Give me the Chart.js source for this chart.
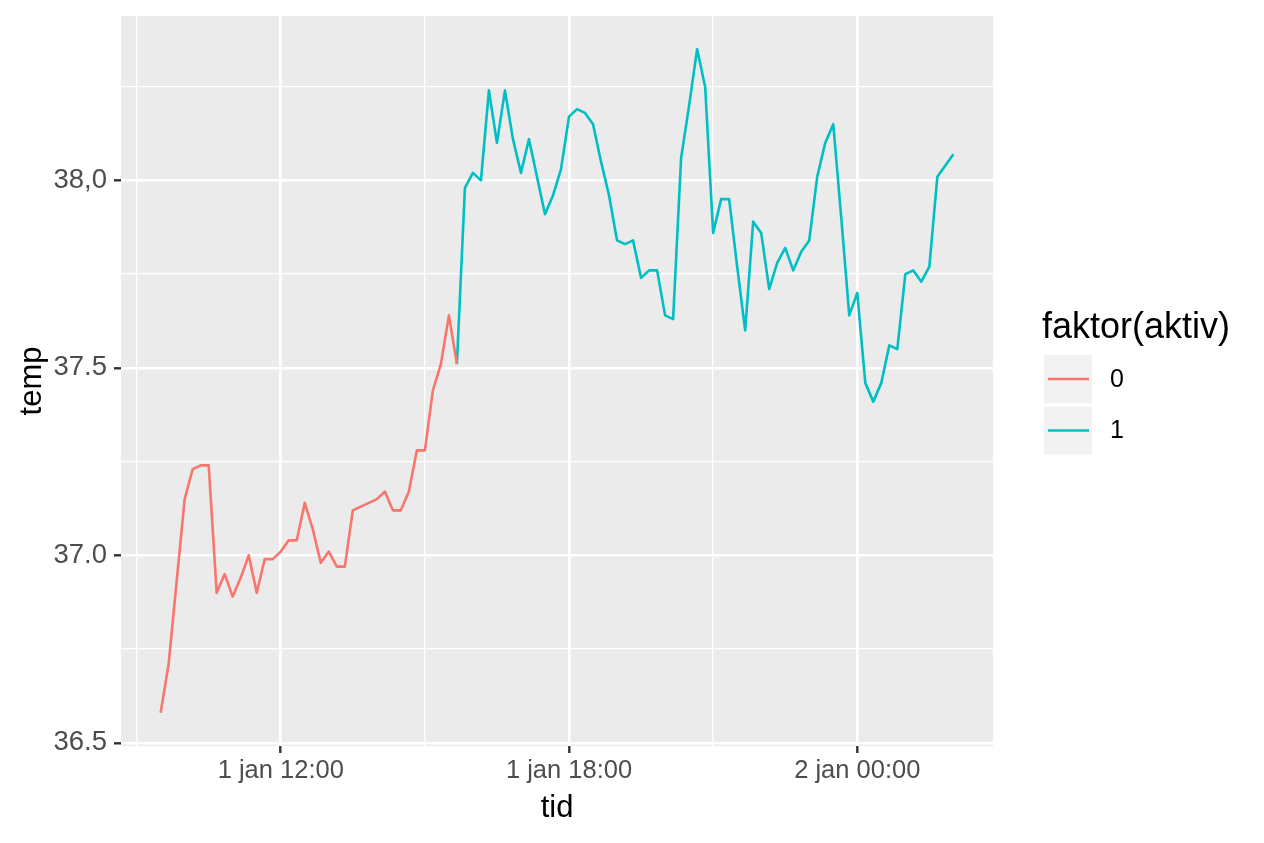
<!DOCTYPE html>
<html>
<head>
<meta charset="utf-8">
<title>temp / tid</title>
<script src="https://cdn.jsdelivr.net/npm/chart.js@4.4.1/dist/chart.umd.min.js"></script>
<style>
  html, body { margin: 0; padding: 0; background: #ffffff; }
  #wrap { width: 1264px; height: 843px; }
</style>
</head>
<body>
<div id="wrap"><canvas id="temp-chart" width="1264" height="843"></canvas></div>
<script>
// faktor(aktiv) = 0
const tid0 = [
  "1 jan 09:30", "1 jan 09:40", "1 jan 09:50",
  "1 jan 10:00", "1 jan 10:10", "1 jan 10:20", "1 jan 10:30", "1 jan 10:40", "1 jan 10:50",
  "1 jan 11:00", "1 jan 11:10", "1 jan 11:20", "1 jan 11:30", "1 jan 11:40", "1 jan 11:50",
  "1 jan 12:00", "1 jan 12:10", "1 jan 12:20", "1 jan 12:30", "1 jan 12:40", "1 jan 12:50",
  "1 jan 13:00", "1 jan 13:10", "1 jan 13:20", "1 jan 13:30", "1 jan 13:40", "1 jan 13:50",
  "1 jan 14:00", "1 jan 14:10", "1 jan 14:20", "1 jan 14:30", "1 jan 14:40", "1 jan 14:50",
  "1 jan 15:00", "1 jan 15:10", "1 jan 15:20", "1 jan 15:30", "1 jan 15:40"
];
const temp0 = [
  36.58, 36.71, 36.93,
  37.15, 37.23, 37.24, 37.24, 36.90, 36.95,
  36.89, 36.94, 37.00, 36.90, 36.99, 36.99,
  37.01, 37.04, 37.04, 37.14, 37.07, 36.98,
  37.01, 36.97, 36.97, 37.12, 37.13, 37.14,
  37.15, 37.17, 37.12, 37.12, 37.17, 37.28,
  37.28, 37.44, 37.51, 37.64, 37.51
];

// faktor(aktiv) = 1
const tid1 = [
  "1 jan 15:40", "1 jan 15:50",
  "1 jan 16:00", "1 jan 16:10", "1 jan 16:20", "1 jan 16:30", "1 jan 16:40", "1 jan 16:50",
  "1 jan 17:00", "1 jan 17:10", "1 jan 17:20", "1 jan 17:30", "1 jan 17:40", "1 jan 17:50",
  "1 jan 18:00", "1 jan 18:10", "1 jan 18:20", "1 jan 18:30", "1 jan 18:40", "1 jan 18:50",
  "1 jan 19:00", "1 jan 19:10", "1 jan 19:20", "1 jan 19:30", "1 jan 19:40", "1 jan 19:50",
  "1 jan 20:00", "1 jan 20:10", "1 jan 20:20", "1 jan 20:30", "1 jan 20:40", "1 jan 20:50",
  "1 jan 21:00", "1 jan 21:10", "1 jan 21:20", "1 jan 21:30", "1 jan 21:40", "1 jan 21:50",
  "1 jan 22:00", "1 jan 22:10", "1 jan 22:20", "1 jan 22:30", "1 jan 22:40", "1 jan 22:50",
  "1 jan 23:00", "1 jan 23:10", "1 jan 23:20", "1 jan 23:30", "1 jan 23:40", "1 jan 23:50",
  "2 jan 00:00", "2 jan 00:10", "2 jan 00:20", "2 jan 00:30", "2 jan 00:40", "2 jan 00:50",
  "2 jan 01:00", "2 jan 01:10", "2 jan 01:20", "2 jan 01:30", "2 jan 01:40", "2 jan 01:50",
  "2 jan 02:00"
];
const temp1 = [
  37.51, 37.98,
  38.02, 38.00, 38.24, 38.10, 38.24, 38.11,
  38.02, 38.11, 38.01, 37.91, 37.96, 38.03,
  38.17, 38.19, 38.18, 38.15, 38.05, 37.96,
  37.84, 37.83, 37.84, 37.74, 37.76, 37.76,
  37.64, 37.63, 38.06, 38.20, 38.35, 38.25,
  37.86, 37.95, 37.95, 37.77, 37.60, 37.89,
  37.86, 37.71, 37.78, 37.82, 37.76, 37.81,
  37.84, 38.01, 38.10, 38.15, 37.90, 37.64,
  37.70, 37.46, 37.41, 37.46, 37.56, 37.55,
  37.75, 37.76, 37.73, 37.77, 38.01, 38.04,
  38.07
];

const xTickTider = ["1 jan 12:00", "1 jan 18:00", "2 jan 00:00"];
const xMinorTider = ["1 jan 09:00", "1 jan 15:00", "1 jan 21:00"];
const yTicks = [36.5, 37.0, 37.5, 38.0];
const yTickLabels = ["36.5", "37.0", "37.5", "38,0"];
const yMinor = [36.75, 37.25, 37.75, 38.25];
const grupper = ["0", "1"];
const farger = ["#F8766D", "#00BFC4"];

const FONT = '"Liberation Sans", Arial, Helvetica, sans-serif';

// "1 jan 09:30" -> minutter etter 1 jan 00:00
function minutter(s) {
  const deler = s.split(" ");
  const hm = deler[2].split(":").map(Number);
  return (Number(deler[0]) - 1) * 1440 + hm[0] * 60 + hm[1];
}

const xMajor = xTickTider.map(minutter);
const xMinor = xMinorTider.map(minutter);

// ggplot-aktig utvidelse av aksene (5 %)
const alleX = tid0.concat(tid1).map(minutter);
const alleY = temp0.concat(temp1);
const xMin = Math.min(...alleX), xMax = Math.max(...alleX);
const yMin = Math.min(...alleY), yMax = Math.max(...alleY);
const xPad = (xMax - xMin) * 0.05, yPad = (yMax - yMin) * 0.05;

const panelPlugin = {
  id: 'panel',
  beforeDraw(chart) {
    const { ctx, chartArea: a } = chart;
    ctx.save();
    ctx.fillStyle = '#EBEBEB';
    ctx.fillRect(a.left, a.top, a.right - a.left, a.bottom - a.top);
    ctx.restore();
  }
};

const legendPlugin = {
  id: 'faktorLegend',
  afterDraw(chart) {
    const { ctx, chartArea: a } = chart;
    const x0 = a.right + 51;
    ctx.save();
    ctx.fillStyle = '#000000';
    ctx.font = '36px ' + FONT;
    ctx.textBaseline = 'alphabetic';
    ctx.textAlign = 'left';
    ctx.fillText('faktor(aktiv)', x0 - 2, 338);
    grupper.forEach((g, i) => {
      const top = 355 + i * 51.5;
      ctx.fillStyle = '#F2F2F2';
      ctx.fillRect(x0, top, 48, 48);
      ctx.strokeStyle = farger[i];
      ctx.lineWidth = 2.6;
      ctx.beginPath();
      ctx.moveTo(x0 + 4, top + 24);
      ctx.lineTo(x0 + 45, top + 24);
      ctx.stroke();
      ctx.fillStyle = '#000000';
      ctx.font = '25px ' + FONT;
      ctx.textBaseline = 'middle';
      ctx.fillText(g, x0 + 66, top + 25);
    });
    ctx.restore();
  }
};

Chart.defaults.font.family = FONT;

new Chart(document.getElementById('temp-chart'), {
  type: 'line',
  data: {
    datasets: [
      {
        label: grupper[0],
        data: tid0.map((t, i) => ({ x: minutter(t), y: temp0[i] })),
        borderColor: farger[0],
        borderWidth: 2.6,
        borderJoinStyle: 'round',
        pointRadius: 0,
        tension: 0
      },
      {
        label: grupper[1],
        data: tid1.map((t, i) => ({ x: minutter(t), y: temp1[i] })),
        borderColor: farger[1],
        borderWidth: 2.6,
        borderJoinStyle: 'round',
        pointRadius: 0,
        tension: 0
      }
    ]
  },
  options: {
    responsive: false,
    animation: false,
    layout: { padding: { top: 16, right: 271, bottom: 0, left: 0 } },
    scales: {
      x: {
        type: 'linear',
        min: xMin - xPad,
        max: xMax + xPad,
        afterBuildTicks: scale => {
          scale.ticks = xMinor.concat(xMajor).sort((a, b) => a - b).map(v => ({ value: v }));
        },
        afterFit: scale => {
          scale.height = 97;
          scale.paddingLeft = 0;
          scale.paddingRight = 0;
        },
        ticks: {
          autoSkip: false,
          maxRotation: 0,
          padding: 3,
          color: '#4D4D4D',
          font: { size: 25.5 },
          callback: v => {
            const i = xMajor.indexOf(v);
            return i >= 0 ? xTickTider[i] : '';
          }
        },
        grid: {
          color: '#FFFFFF',
          lineWidth: c => (xMajor.indexOf(c.tick.value) >= 0 ? 2.6 : 1.3),
          tickColor: c => (xMajor.indexOf(c.tick.value) >= 0 ? '#333333' : 'rgba(0,0,0,0)'),
          tickWidth: 2.4,
          tickLength: 7
        },
        border: { display: false },
        title: {
          display: true,
          text: 'tid',
          color: '#000000',
          font: { size: 31 },
          padding: { top: 0, bottom: 16 }
        }
      },
      y: {
        type: 'linear',
        min: yMin - yPad,
        max: yMax + yPad,
        afterBuildTicks: scale => {
          scale.ticks = yTicks.concat(yMinor).sort((a, b) => a - b).map(v => ({ value: v }));
        },
        afterFit: scale => {
          scale.width = 121;
          scale.paddingTop = 0;
          scale.paddingBottom = 0;
        },
        ticks: {
          autoSkip: false,
          padding: 7,
          color: '#4D4D4D',
          font: { size: 27.5 },
          callback: v => {
            const i = yTicks.indexOf(v);
            return i >= 0 ? yTickLabels[i] : '';
          }
        },
        grid: {
          color: '#FFFFFF',
          lineWidth: c => (yTicks.indexOf(c.tick.value) >= 0 ? 2.6 : 1.3),
          tickColor: c => (yTicks.indexOf(c.tick.value) >= 0 ? '#333333' : 'rgba(0,0,0,0)'),
          tickWidth: 2.4,
          tickLength: 7
        },
        border: { display: false },
        title: {
          display: true,
          text: 'temp',
          color: '#000000',
          font: { size: 31 },
          padding: { top: 14, bottom: 0 }
        }
      }
    },
    plugins: {
      legend: { display: false },
      tooltip: { enabled: false }
    }
  },
  plugins: [panelPlugin, legendPlugin]
});
</script>
</body>
</html>
